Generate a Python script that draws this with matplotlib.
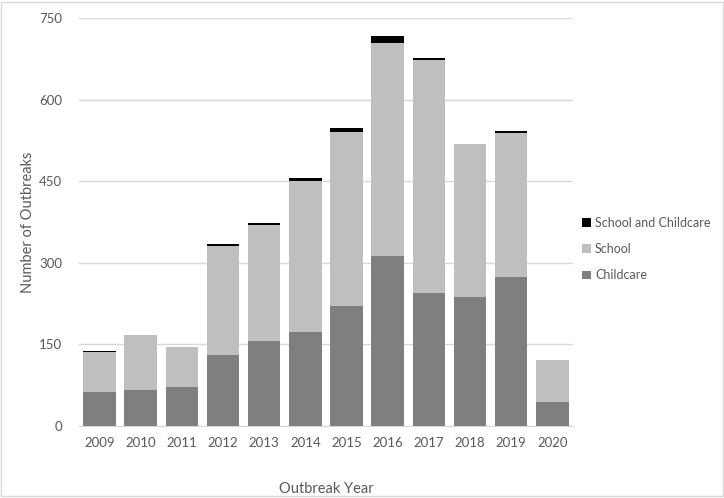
import numpy as np
import matplotlib.pyplot as plt
from matplotlib.patches import Rectangle

# values
years = ['2009', '2010', '2011', '2012', '2013', '2014',
         '2015', '2016', '2017', '2018', '2019', '2020']
childcare = [62, 67, 71, 131, 156, 173, 221, 313, 244, 237, 273, 45]
school = [74, 100, 75, 200, 213, 278, 319, 391, 429, 282, 266, 76]
school_and_childcare = [2, 0, 0, 4, 5, 4, 8, 12, 4, 0, 4, 0]

plt.rcParams['font.family'] = ['Lato', 'DejaVu Sans']
text_col = '#595959'

fig = plt.figure(figsize=(7.24, 4.98), dpi=100)
ax = fig.add_axes([0.1091, 0.1446, 0.6823, 0.8193])

x = np.arange(len(years))
w = 0.79
b1 = ax.bar(x, childcare, w, color='#7f7f7f', label='Childcare', zorder=3)
b2 = ax.bar(x, school, w, bottom=childcare, color='#bfbfbf', label='School', zorder=3)
bottom2 = np.array(childcare) + np.array(school)
b3 = ax.bar(x, school_and_childcare, w, bottom=bottom2, color='#000000',
            label='School and Childcare', zorder=3)

ax.set_xlim(-0.5, len(years) - 0.5)
ax.set_ylim(0, 750)
ax.set_yticks([0, 150, 300, 450, 600, 750])
ax.set_xticks(x)
ax.set_xticklabels(years)
ax.yaxis.grid(True, color='#d9d9d9', linewidth=1, zorder=0)
for s in ['top', 'right', 'left']:
    ax.spines[s].set_visible(False)
ax.spines['bottom'].set_color('#d9d9d9')
ax.tick_params(axis='both', length=0, labelsize=9.5, colors=text_col)
ax.tick_params(axis='x', pad=8)
ax.tick_params(axis='y', pad=12)

ax.set_xlabel('Outbreak Year', fontsize=10.5, color=text_col, labelpad=24)
ax.set_ylabel('Number of Outbreaks', fontsize=10.5, color=text_col, labelpad=3)

leg = fig.legend(handles=[b3, b2, b1], loc='center left',
                 bbox_to_anchor=(0.788, 0.50), frameon=False,
                 fontsize=9, labelcolor=text_col,
                 handlelength=0.7, handleheight=0.7, handletextpad=0.35,
                 labelspacing=1.15)

# light outer border like the exported chart
fig.patches.append(Rectangle((0.002, 0.004), 0.996, 0.992, transform=fig.transFigure,
                             fill=False, edgecolor='#d9d9d9', linewidth=1))

fig.savefig('out.png', dpi=100)
